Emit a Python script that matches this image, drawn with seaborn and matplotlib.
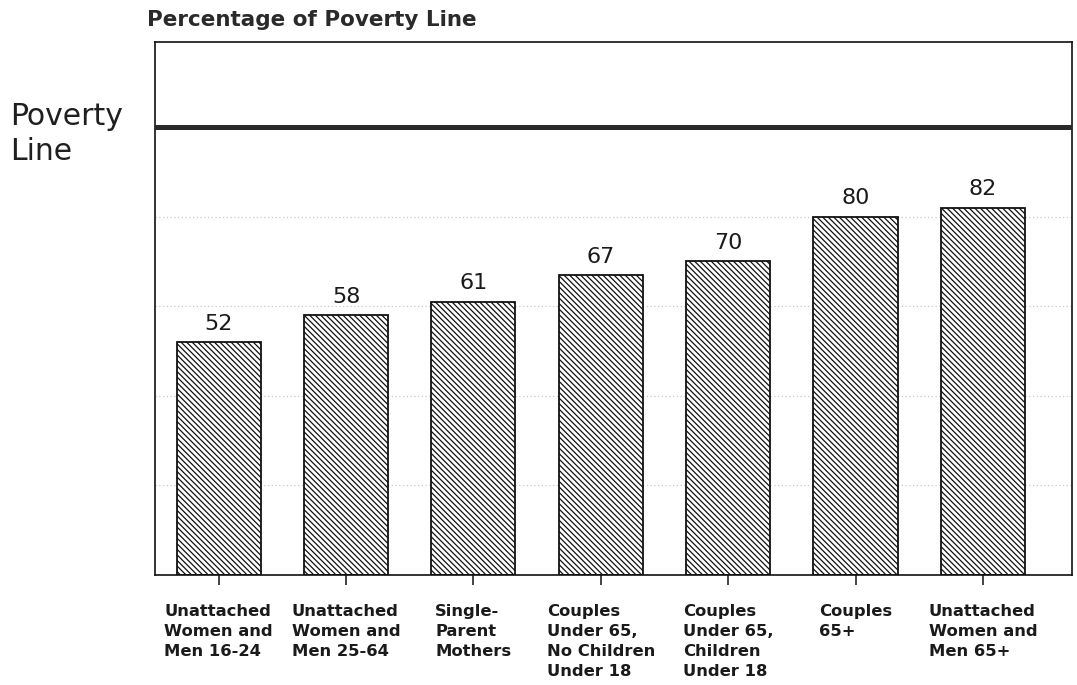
import matplotlib
matplotlib.use("Agg")
import matplotlib.pyplot as plt
import seaborn as sns
import pandas as pd

# Household groups and their income as a percentage of the poverty line
categories = [
    "Unattached\nWomen and\nMen 16-24",
    "Unattached\nWomen and\nMen 25-64",
    "Single-\nParent\nMothers",
    "Couples\nUnder 65,\nNo Children\nUnder 18",
    "Couples\nUnder 65,\nChildren\nUnder 18",
    "Couples\n65+",
    "Unattached\nWomen and\nMen 65+",
]
percent_of_line = [52, 58, 61, 67, 70, 80, 82]
poverty_line = 100
grid_levels = [20, 40, 60, 80]

df = pd.DataFrame({"group": categories, "pct": percent_of_line})

sns.set_theme(style="white")
plt.rcParams["font.family"] = ["DejaVu Sans"]
plt.rcParams["hatch.linewidth"] = 0.9
plt.rcParams["hatch.color"] = "#222222"

fig = plt.figure(figsize=(10.77, 6.85), dpi=100)
ax = fig.add_axes([0.1439, 0.1606, 0.9954 - 0.1439, 0.9387 - 0.1606])

# faint dotted reference levels behind the bars
for lv in grid_levels:
    ax.axhline(lv, color="#c8c8c8", lw=0.9, ls=(0, (1, 2)), zorder=0)

sns.barplot(data=df, x="group", y="pct", color="white", edgecolor="#111111",
            linewidth=1.3, width=0.66, saturation=1, ax=ax, zorder=2)
for p in ax.patches:
    p.set_hatch("\\" * 6)
    p.set_facecolor("white")

ax.bar_label(ax.containers[0], labels=[str(v) for v in percent_of_line],
             padding=6, fontsize=16, color="#1a1a1a")

# the poverty line itself
ax.axhline(poverty_line, color="#2a2a2a", lw=3.6, zorder=3)

ax.set_xlim(-0.5, 6.7)
ax.set_ylim(0, 119)
ax.set_yticks([])
ax.set_xlabel("")
ax.set_ylabel("")
for s in ax.spines.values():
    s.set_visible(True)
    s.set_color("#111111")
    s.set_linewidth(1.2)

ax.tick_params(axis="x", which="major", direction="out", length=7, width=1.1,
               color="#111111", bottom=True, pad=14)
for lab in ax.get_xticklabels():
    lab.set_fontsize(11.8)
    lab.set_fontweight("bold")
    lab.set_color("#1a1a1a")
    lab.set_multialignment("left")
    lab.set_linespacing(1.4)
    lab.set_verticalalignment("top")

fig.text(147 / 1077, 1 - 20 / 685, "Percentage of Poverty Line", fontsize=15.5,
         fontweight="bold", color="#2a2a2a", ha="left", va="center")
fig.text(10 / 1077, 1 - 134 / 685, "Poverty\nLine", fontsize=21.5,
         color="#1f1f1f", ha="left", va="center", linespacing=1.3)

fig.savefig("out.png", dpi=100)
